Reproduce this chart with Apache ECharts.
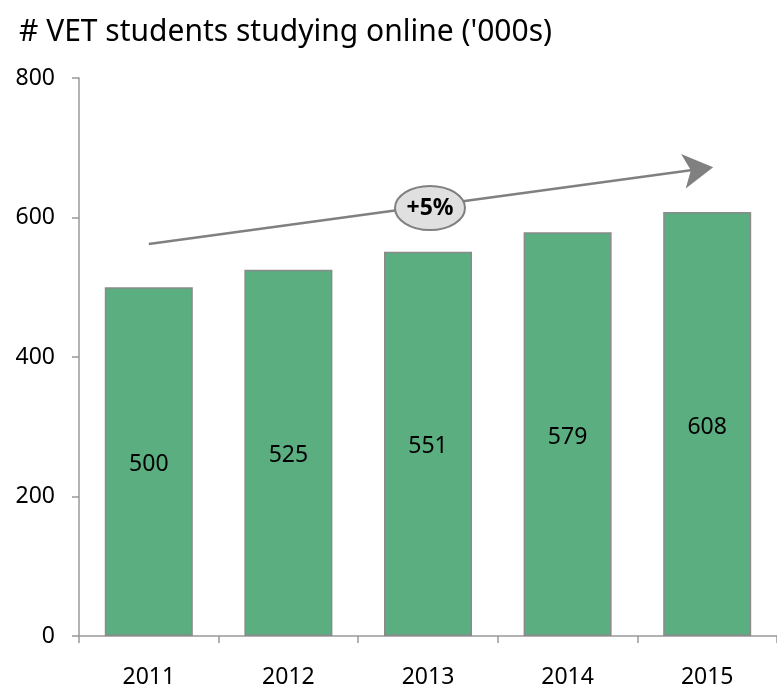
<!DOCTYPE html>
<html>
<head>
<meta charset="utf-8">
<script src="https://cdn.jsdelivr.net/npm/echarts@6/dist/echarts.min.js"></script>
<style>
  html, body { margin: 0; padding: 0; background: #fff; }
  #chart { width: 777px; height: 692px; }
</style>
</head>
<body>
<div id="chart"></div>
<script>
// data
var years = ["2011", "2012", "2013", "2014", "2015"];
var students = [500, 525, 551, 579, 608];
var yTicks = [0, 200, 400, 600, 800];
var growthLabel = "+5%";
// trend arrow, in data units (category, value)
var arrowFrom = ["2011", 562];
var arrowTo = ["2015", 671];

var font = "Noto Sans";
var chart = echarts.init(document.getElementById("chart"));

var option = {
  animation: false,
  title: {
    text: "# VET students studying online ('000s)",
    left: 14,
    top: 12,
    textStyle: { fontFamily: font, fontSize: 30, fontWeight: "normal", color: "#000" }
  },
  grid: { left: 79, top: 78, right: -7, bottom: 56 },
  xAxis: {
    type: "category",
    data: years,
    axisLine: { lineStyle: { color: "#999", width: 1.5 } },
    axisTick: { show: true, length: 7, lineStyle: { color: "#999", width: 1.5 } },
    axisLabel: { fontFamily: font, fontSize: 23, color: "#000", margin: 30 }
  },
  yAxis: {
    type: "value",
    min: yTicks[0],
    max: yTicks[yTicks.length - 1],
    interval: 200,
    splitLine: { show: false },
    axisLine: { show: true, lineStyle: { color: "#999", width: 1.5 } },
    axisTick: { show: true, length: 7, lineStyle: { color: "#999", width: 1.5 } },
    axisLabel: { fontFamily: font, fontSize: 23, color: "#000", margin: 24 }
  },
  series: [
    {
      type: "bar",
      data: students,
      barWidth: 88,
      itemStyle: { color: "#5aae80", borderColor: "#8a8a8a", borderWidth: 1.5 },
      label: {
        show: true,
        position: "inside",
        offset: [0, 3],
        fontFamily: font,
        fontSize: 23,
        color: "#000"
      },
      markLine: {
        silent: true,
        symbol: ["none", "arrow"],
        symbolSize: [26, 30],
        symbolOffset: [0, [0, -6]],
        label: { show: false },
        lineStyle: { color: "#808080", width: 2.5, type: "solid" },
        emphasis: { disabled: true },
        data: [[{ coord: arrowFrom }, { coord: arrowTo }]]
      }
    }
  ]
};
chart.setOption(option);

// growth bubble at the middle of the arrow
var p0 = chart.convertToPixel({ seriesIndex: 0 }, arrowFrom);
var p1 = chart.convertToPixel({ seriesIndex: 0 }, arrowTo);
var mx = (p0[0] + p1[0]) / 2 + 2;
var my = (p0[1] + p1[1]) / 2 + 2;
chart.setOption({
  graphic: [
    {
      type: "ellipse",
      shape: { cx: mx, cy: my, rx: 35, ry: 22 },
      style: { fill: "#e0e0e0", stroke: "#808080", lineWidth: 2 },
      z: 100
    },
    {
      type: "text",
      x: mx,
      y: my,
      style: {
        text: growthLabel,
        fontFamily: font,
        fontSize: 23,
        fontWeight: "bold",
        fill: "#000",
        align: "center",
        verticalAlign: "middle"
      },
      z: 101
    }
  ]
});
</script>
</body>
</html>
